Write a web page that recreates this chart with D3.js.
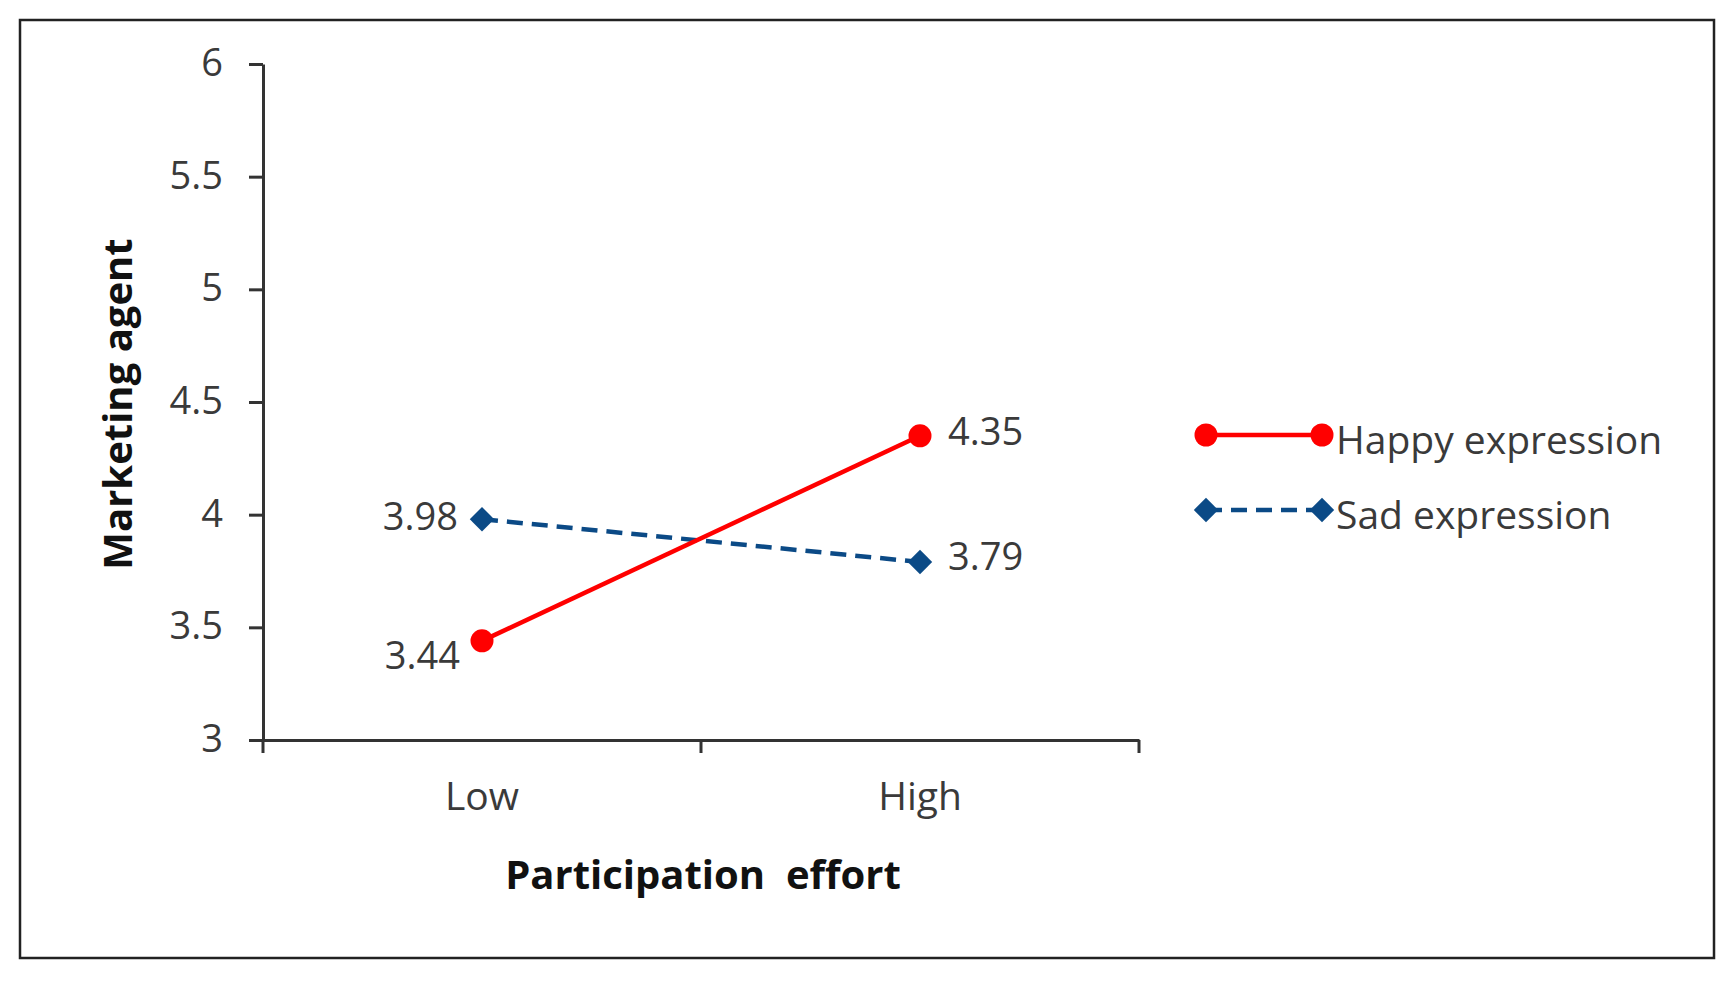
<!DOCTYPE html>
<html>
<head>
<meta charset="utf-8">
<script src="https://cdn.jsdelivr.net/npm/d3@7"></script>
<style>
  body { margin: 0; background: #fff; }
  svg { display: block; }
  text { font-family: "Open Sans", "Noto Sans", sans-serif; }
</style>
</head>
<body>
<svg width="1734" height="982"></svg>
<script>
const categories = ['Low', 'High'];
const happyValues = [3.44, 4.35];
const sadValues = [3.98, 3.79];
const seriesNames = ['Happy expression', 'Sad expression'];
const yTicks = [3, 3.5, 4, 4.5, 5, 5.5, 6];

const svg = d3.select('svg');
const width = +svg.attr('width');
const height = +svg.attr('height');

// outer frame
svg.append('rect')
    .attr('x', 20).attr('y', 20)
    .attr('width', 1694).attr('height', 938)
    .attr('fill', 'none')
    .attr('stroke', '#222')
    .attr('stroke-width', 2.5);

const margin = { top: 64, left: 263 };
const innerWidth = 1139 - margin.left;
const innerHeight = 740 - margin.top;

const xScale = d3.scaleBand()
    .domain(categories)
    .range([0, innerWidth]);

const yScale = d3.scaleLinear()
    .domain([3, 6])
    .range([innerHeight, 0]);

const g = svg.append('g')
    .attr('transform', `translate(${margin.left}, ${margin.top})`);

const axisColor = '#333';
const labelColor = '#3a3a3a';

// y axis (lines from d3 axis, labels drawn below)
const yAxis = g.append('g')
    .call(d3.axisLeft(yScale)
        .tickValues(yTicks)
        .tickFormat('')
        .tickSize(14)
        .tickSizeOuter(0));
yAxis.select('.domain').attr('stroke', axisColor).attr('stroke-width', 3);
yAxis.selectAll('.tick line').attr('stroke', axisColor).attr('stroke-width', 3);

g.append('g').selectAll('text').data(yTicks)
    .enter().append('text')
    .attr('x', -40)
    .attr('y', d => yScale(d) + 12)
    .attr('text-anchor', 'end')
    .attr('fill', labelColor)
    .attr('font-size', 38)
    .text(d3.format('~g'));

// x axis
const xAxis = g.append('g')
    .attr('transform', `translate(0, ${innerHeight})`)
    .call(d3.axisBottom(xScale).tickSize(0).tickSizeOuter(0).tickFormat(''));
xAxis.select('.domain').attr('stroke', axisColor).attr('stroke-width', 3);

g.append('g').selectAll('text').data(categories)
    .enter().append('text')
    .attr('x', d => xScale(d) + xScale.bandwidth() / 2)
    .attr('y', innerHeight + 70)
    .attr('text-anchor', 'middle')
    .attr('fill', labelColor)
    .attr('font-size', 39)
    .text(d => d);

// x axis boundary ticks
const bounds = categories.map(c => xScale(c)).concat([xScale(categories[categories.length - 1]) + xScale.bandwidth()]);
g.append('g').selectAll('line').data(bounds)
    .enter().append('line')
    .attr('x1', d => d).attr('x2', d => d)
    .attr('y1', innerHeight).attr('y2', innerHeight + 13)
    .attr('stroke', axisColor)
    .attr('stroke-width', 3);

// axis titles
svg.append('text')
    .attr('transform', `translate(132, 404) rotate(-90)`)
    .attr('text-anchor', 'middle')
    .attr('fill', '#111')
    .attr('font-size', 40)
    .attr('font-weight', 'bold')
    .text('Marketing agent');

svg.append('text')
    .attr('x', 703).attr('y', 889)
    .attr('text-anchor', 'middle')
    .attr('fill', '#111')
    .attr('font-size', 40)
    .attr('font-weight', 'bold')
    .style('white-space', 'pre')
    .text('Participation  effort');

const cx = d => xScale(d) + xScale.bandwidth() / 2;
const happyColor = '#ff0000';
const sadColor = '#0b4a86';

const happyData = categories.map((c, i) => ({ c, v: happyValues[i] }));
const sadData = categories.map((c, i) => ({ c, v: sadValues[i] }));

const line = d3.line().x(d => cx(d.c)).y(d => yScale(d.v));

g.append('path').datum(sadData)
    .attr('d', line)
    .attr('fill', 'none')
    .attr('stroke', sadColor)
    .attr('stroke-width', 4.5)
    .attr('stroke-dasharray', '16 9');

g.append('path').datum(happyData)
    .attr('d', line)
    .attr('fill', 'none')
    .attr('stroke', happyColor)
    .attr('stroke-width', 4.5);

const diamond = d3.symbol().type(d3.symbolDiamond2).size(380);

g.selectAll('.sad-pt').data(sadData)
    .enter().append('path')
    .attr('class', 'sad-pt')
    .attr('d', diamond)
    .attr('transform', d => `translate(${cx(d.c)}, ${yScale(d.v)})`)
    .attr('fill', sadColor);

g.selectAll('.happy-pt').data(happyData)
    .enter().append('circle')
    .attr('class', 'happy-pt')
    .attr('cx', d => cx(d.c))
    .attr('cy', d => yScale(d.v))
    .attr('r', 11.5)
    .attr('fill', happyColor);

// value labels
const valueLabel = (data, pos) => {
    g.selectAll(null).data(data)
        .enter().append('text')
        .attr('x', (d, i) => cx(d.c) + pos[i][0])
        .attr('y', (d, i) => yScale(d.v) + pos[i][1] + 14)
        .attr('text-anchor', (d, i) => pos[i][0] < 0 ? 'end' : 'start')
        .attr('fill', labelColor)
        .attr('font-size', 38)
        .text(d => d3.format('.2f')(d.v));
};
valueLabel(happyData, [[-22, 14], [28, -5]]);
valueLabel(sadData, [[-24, -3], [28, -6]]);

// legend
const legend = svg.append('g').attr('transform', 'translate(1206, 0)');
const legendRows = [
    { name: seriesNames[0], color: happyColor, y: 435, dash: null, marker: 'circle' },
    { name: seriesNames[1], color: sadColor, y: 510, dash: '16 9', marker: 'diamond' }
];
legendRows.forEach(r => {
    legend.append('line')
        .attr('x1', 0).attr('x2', 116)
        .attr('y1', r.y).attr('y2', r.y)
        .attr('stroke', r.color)
        .attr('stroke-width', 4.5)
        .attr('stroke-dasharray', r.dash);
    [0, 116].forEach(x => {
        if (r.marker === 'circle') {
            legend.append('circle').attr('cx', x).attr('cy', r.y).attr('r', 11.5).attr('fill', r.color);
        } else {
            legend.append('path').attr('d', diamond)
                .attr('transform', `translate(${x}, ${r.y})`).attr('fill', r.color);
        }
    });
    legend.append('text')
        .attr('x', 130).attr('y', r.y + 19)
        .attr('fill', labelColor)
        .attr('font-size', 39)
        .text(r.name);
});
</script>
</body>
</html>
